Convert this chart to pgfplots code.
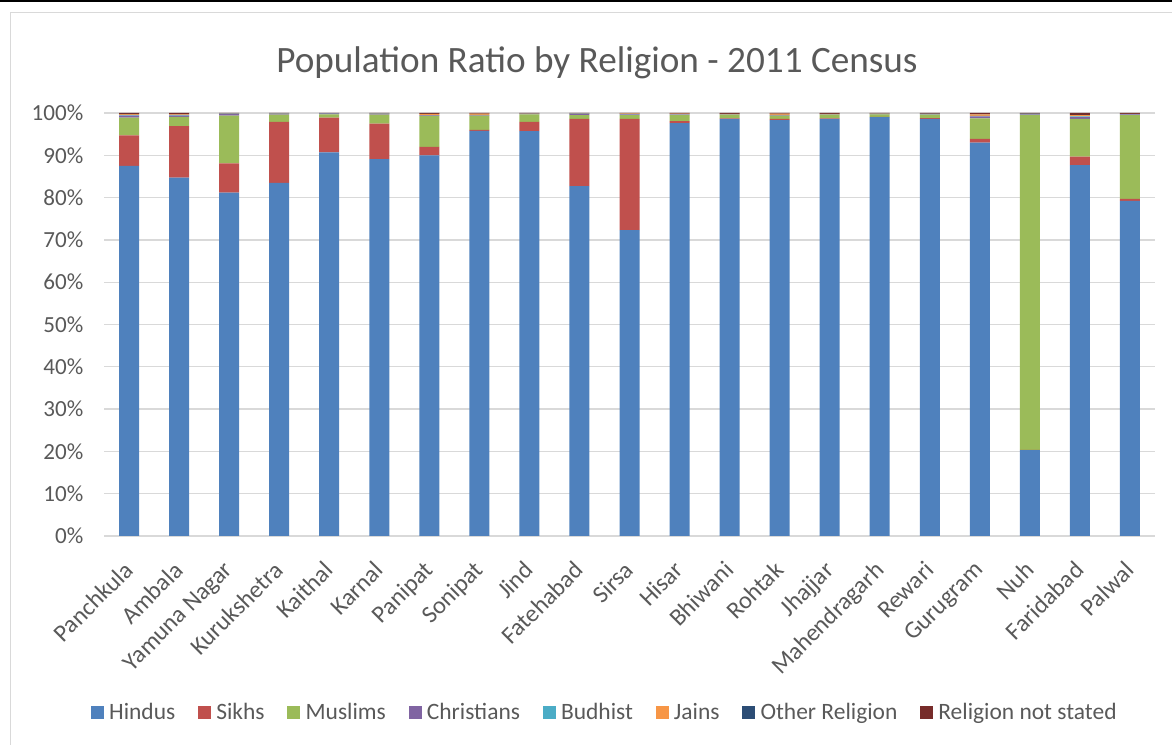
\documentclass[border=0pt]{standalone}
\usepackage{fontspec}
\setmainfont{Carlito}
\usepackage{pgfplots}
\usepackage{pgfplotstable}
\pgfplotsset{compat=1.18}
\definecolor{cH}{HTML}{4F81BD}
\definecolor{cS}{HTML}{C0504D}
\definecolor{cM}{HTML}{9BBB59}
\definecolor{cC}{HTML}{8064A2}
\definecolor{cB}{HTML}{4BACC6}
\definecolor{cJ}{HTML}{F79646}
\definecolor{cO}{HTML}{2C4D75}
\definecolor{cN}{HTML}{772C2A}
\definecolor{txt}{HTML}{595959}
\definecolor{grd}{HTML}{D9D9D9}
\pgfplotstableread{
x H S M C B J O N
0 87.5 7.2 4.2 0.5 0.15 0.2 0.05 0.2
1 84.7 12.2 2.2 0.3 0.1 0.2 0.05 0.25
2 81.2 6.9 11.3 0.4 0.05 0.05 0.02 0.08
3 83.5 14.4 1.7 0.2 0.05 0.05 0.02 0.08
4 90.7 8.2 0.8 0.15 0.03 0.02 0.02 0.08
5 89.1 8.4 2.1 0.2 0.05 0.05 0.02 0.08
6 90.0 2.0 7.3 0.15 0.05 0.3 0.02 0.18
7 95.8 0.2 3.4 0.1 0.03 0.3 0.02 0.15
8 95.7 2.2 1.8 0.1 0.02 0.05 0.02 0.11
9 82.7 15.9 0.9 0.3 0.05 0.05 0.02 0.08
10 72.3 26.3 0.9 0.2 0.1 0.1 0.02 0.08
11 97.6 0.5 1.4 0.1 0.05 0.2 0.02 0.13
12 98.6 0.1 0.9 0.05 0.02 0.1 0.03 0.2
13 98.3 0.3 0.8 0.1 0.03 0.3 0.02 0.15
14 98.6 0.1 0.9 0.05 0.02 0.1 0.03 0.2
15 99.0 0.1 0.6 0.05 0.02 0.1 0.03 0.1
16 98.6 0.2 0.8 0.1 0.02 0.1 0.03 0.15
17 93.0 0.9 4.8 0.5 0.1 0.4 0.05 0.25
18 20.3 0.07 79.2 0.1 0.1 0.05 0.02 0.16
19 87.7 2.0 8.9 0.4 0.2 0.3 0.05 0.45
20 79.2 0.5 19.8 0.2 0.05 0.05 0.02 0.18
}\data
\begin{document}
\begin{tikzpicture}
\path[use as bounding box] (0pt,0pt) rectangle (879pt,558.75pt);
\fill[black] (0pt,557.25pt) rectangle (879pt,558.75pt);
\draw[grd, line width=0.75pt] (7.5pt,0pt) -- (7.5pt,549pt) -- (879pt,549pt);
\node[anchor=base, text=txt, font=\fontsize{27.9pt}{32pt}\selectfont] at (447.75pt,504pt) {Population Ratio by Religion - 2011 Census};
\begin{axis}[
  at={(78pt,156.75pt)}, anchor=south west,
  scale only axis, width=788.25pt, height=317.25pt,
  ybar stacked, bar width=15pt,
  xmin=-0.5, xmax=20.5, ymin=0, ymax=100,
  axis line style={draw=none},
  tick style={draw=none},
  ymajorgrids, major grid style={grd, line width=1pt},
  ytick={0,10,...,100},
  yticklabel={\pgfmathprintnumber{\tick}\%},
  /pgf/number format/assume math mode=true,
  ticklabel style={text=txt, font=\fontsize{17.3pt}{20pt}\selectfont},
  yticklabel style={xshift=-12pt},
  xtick=data,
  xticklabels={Panchkula,Ambala,Yamuna Nagar,Kurukshetra,Kaithal,Karnal,Panipat,Sonipat,Jind,Fatehabad,Sirsa,Hisar,Bhiwani,Rohtak,Jhajjar,Mahendragarh,Rewari,Gurugram,Nuh,Faridabad,Palwal},
  xticklabel style={rotate=45, anchor=north east, inner sep=1pt, xshift=-15pt, yshift=-8pt, font=\fontsize{18.3pt}{22pt}\selectfont},
  legend columns=8,
  legend style={at={(0.478,-0.418)}, anchor=center, draw=none, fill=none,
    font=\fontsize{17.6pt}{20pt}\selectfont, text=txt,
    /tikz/every even column/.append style={column sep=13pt},
    nodes={inner xsep=4pt}},
  legend image code/.code={\fill[#1] (0pt,-4.9pt) rectangle (9.75pt,4.85pt);},
  every axis plot/.append style={draw=none},
]
\addplot[fill=cH] table[x=x,y=H]{\data};
\addplot[fill=cS] table[x=x,y=S]{\data};
\addplot[fill=cM] table[x=x,y=M]{\data};
\addplot[fill=cC] table[x=x,y=C]{\data};
\addplot[fill=cB] table[x=x,y=B]{\data};
\addplot[fill=cJ] table[x=x,y=J]{\data};
\addplot[fill=cO] table[x=x,y=O]{\data};
\addplot[fill=cN] table[x=x,y=N]{\data};
\legend{Hindus,Sikhs,Muslims,Christians,Budhist,Jains,Other Religion,Religion not stated}
\end{axis}
\end{tikzpicture}
\end{document}
